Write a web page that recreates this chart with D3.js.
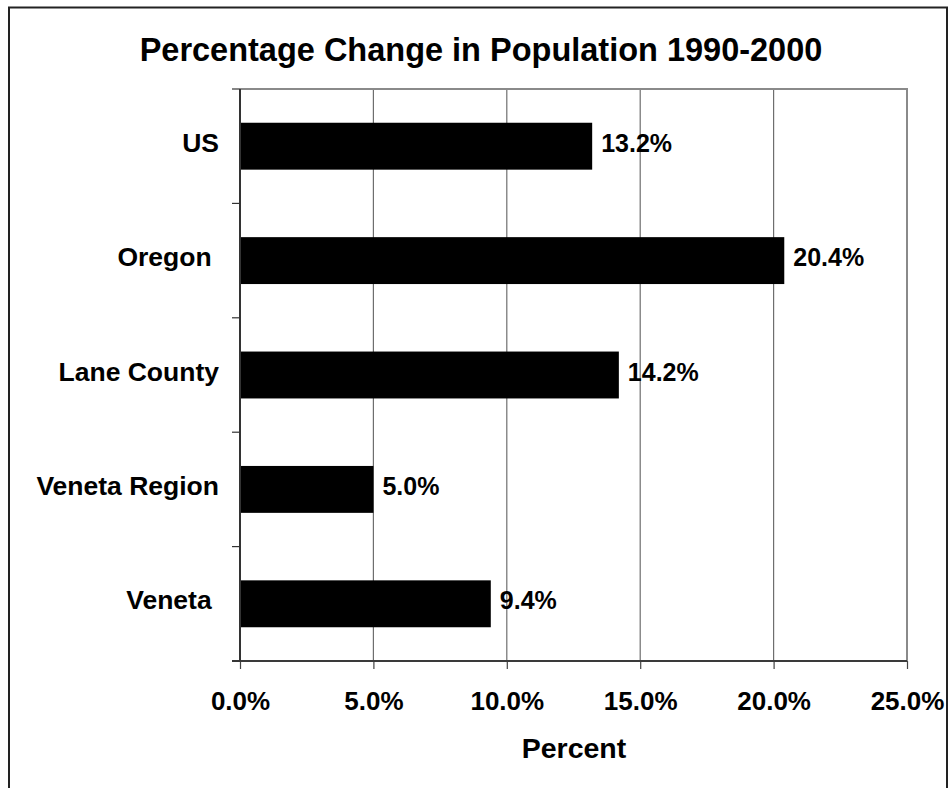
<!DOCTYPE html>
<html>
<head>
<meta charset="utf-8">
<script src="https://cdn.jsdelivr.net/npm/d3@7"></script>
<style>
  html, body { margin: 0; padding: 0; background: #fff; }
  text { font-family: Arial, "Liberation Sans", sans-serif; font-weight: bold; fill: #000; }
</style>
</head>
<body>
<div id="chart"></div>
<script>
// Datos del gráfico
const categories = ["US", "Oregon ", "Lane County", "Veneta Region", "Veneta "];
const values = [0.132, 0.204, 0.142, 0.050, 0.094];
const xTicks = [0, 0.05, 0.10, 0.15, 0.20, 0.25];
const chartTitle = "Percentage Change in Population 1990-2000";
const xTitle = "Percent";

const W = 949, H = 788;
const margin = { top: 89, right: 42, bottom: 127, left: 240 };
const width = W - margin.left - margin.right,
      height = H - margin.top - margin.bottom;

const svg = d3.select("#chart")
    .append("svg")
    .attr("width", W)
    .attr("height", H);

// Marco exterior
svg.append("rect")
    .attr("x", 9).attr("y", 7.5)
    .attr("width", 938).attr("height", 800)
    .attr("fill", "none")
    .attr("stroke", "#222")
    .attr("stroke-width", 2);

// Título
svg.append("text")
    .attr("x", 481)
    .attr("y", 61)
    .attr("text-anchor", "middle")
    .style("font-size", "32.5px")
    .text(chartTitle);

const g = svg.append("g")
    .attr("transform", `translate(${margin.left},${margin.top})`);

const x = d3.scaleLinear()
    .domain([0, 0.25])
    .range([0, width]);

const y = d3.scaleBand()
    .domain(categories)
    .range([0, height])
    .paddingInner(0.59)
    .paddingOuter(0.295);

// Líneas de cuadrícula verticales
g.selectAll(".grid")
    .data(xTicks.slice(1, -1))
    .enter()
    .append("line")
    .attr("class", "grid")
    .attr("x1", d => x(d)).attr("x2", d => x(d))
    .attr("y1", 0).attr("y2", height)
    .attr("stroke", "#6e6e6e")
    .attr("stroke-width", 1.2);

// Borde superior y derecho del área de trazado
g.append("path")
    .attr("d", `M0,0H${x(0.25)}V${height}`)
    .attr("fill", "none")
    .attr("stroke", "#8a8a8a")
    .attr("stroke-width", 2);

// Barras
g.selectAll(".bar")
    .data(values)
    .enter()
    .append("rect")
    .attr("class", "bar")
    .attr("x", x(0))
    .attr("y", (d, i) => y(categories[i]))
    .attr("width", d => x(d) - x(0))
    .attr("height", y.bandwidth())
    .attr("fill", "#000");

// Etiquetas de valores
g.selectAll(".val")
    .data(values)
    .enter()
    .append("text")
    .attr("class", "val")
    .attr("x", d => x(d) + 9)
    .attr("y", (d, i) => y(categories[i]) + y.bandwidth() / 2 + 5.5)
    .style("font-size", "25px")
    .text(d => d3.format(".1%")(d));

// Eje X
const xAxis = g.append("g")
    .attr("transform", `translate(0,${height})`)
    .call(d3.axisBottom(x).tickValues(xTicks).tickFormat(d3.format(".1%")).tickSize(8).tickSizeOuter(0));
xAxis.select(".domain").remove();
xAxis.selectAll(".tick line").attr("stroke", "#444").attr("stroke-width", 1.2);
xAxis.selectAll(".tick text")
    .attr("y", 49)
    .attr("dy", null)
    .style("font-size", "26px")
    .style("font-family", "Arial, 'Liberation Sans', sans-serif")
    .style("font-weight", "bold")
    .attr("fill", "#000");
g.append("line")
    .attr("x1", -8).attr("x2", x(0.25))
    .attr("y1", height).attr("y2", height)
    .attr("stroke", "#3a3a3a")
    .attr("stroke-width", 2);

// Eje Y (marcas entre categorías)
const boundaries = d3.range(categories.length + 1).map(i => i * y.step());
g.selectAll(".ytick")
    .data(boundaries)
    .enter()
    .append("line")
    .attr("class", "ytick")
    .attr("x1", -8).attr("x2", 0)
    .attr("y1", d => d).attr("y2", d => d)
    .attr("stroke", "#333")
    .attr("stroke-width", 1.2);
g.append("line")
    .attr("x1", 0).attr("x2", 0)
    .attr("y1", 0).attr("y2", height)
    .attr("stroke", "#333")
    .attr("stroke-width", 2);

// Etiquetas de categorías
g.selectAll(".cat")
    .data(categories)
    .enter()
    .append("text")
    .attr("class", "cat")
    .attr("x", -21)
    .attr("y", d => y(d) + y.bandwidth() / 2 + 5.5)
    .attr("text-anchor", "end")
    .style("white-space", "pre")
    .style("font-size", "26.5px")
    .text(d => d);

// Título del eje X
svg.append("text")
    .attr("x", 574)
    .attr("y", 758)
    .attr("text-anchor", "middle")
    .style("font-size", "28.5px")
    .text(xTitle);
</script>
</body>
</html>
